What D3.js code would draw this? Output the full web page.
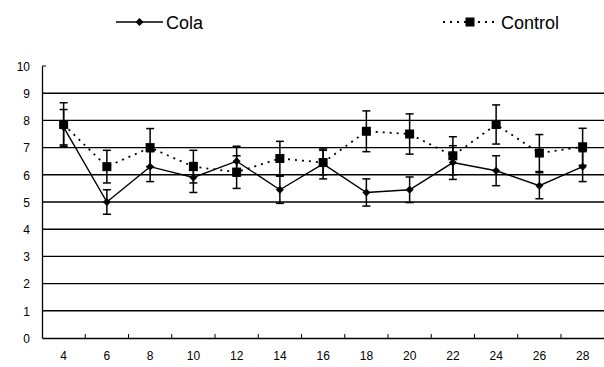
<!doctype html>
<html>
<head>
<meta charset="utf-8">
<script src="https://d3js.org/d3.v7.min.js"></script>
<style>
 body { margin: 0; background: #fff; }
 text { font-family: "Liberation Sans", Arial, sans-serif; fill: #000; }
</style>
</head>
<body>
<script>
// valores
var semanas = [4, 6, 8, 10, 12, 14, 16, 18, 20, 22, 24, 26, 28];
var cola = [7.75, 5.0, 6.3, 5.9, 6.5, 5.45, 6.4, 5.35, 5.45, 6.45, 6.15, 5.6, 6.3];
var colaErro = [0.65, 0.45, 0.55, 0.55, 0.55, 0.5, 0.55, 0.5, 0.47, 0.62, 0.55, 0.48, 0.55];
var controle = [7.85, 6.3, 7.0, 6.3, 6.1, 6.6, 6.45, 7.6, 7.5, 6.7, 7.85, 6.8, 7.03];
var controleErro = [0.8, 0.6, 0.7, 0.6, 0.6, 0.63, 0.45, 0.75, 0.74, 0.7, 0.72, 0.68, 0.68];
var yTicks = [0, 1, 2, 3, 4, 5, 6, 7, 8, 9, 10];

var svg = d3.select("body").append("svg")
    .attr("width", 604)
    .attr("height", 367);

var x0 = 42, x1 = 604, y0 = 338, y1 = 66;

var x = d3.scaleBand().domain(semanas).range([x0, x0 + 13 * 43.25]).padding(0);
var y = d3.scaleLinear().domain([0, 10]).range([y0, y1]);
function cx(d) { return x(d) + x.bandwidth() / 2; }

// linhas de grade
svg.append("g").selectAll("line")
    .data(yTicks.filter(function(t) { return t > 0 && t < 10; }))
    .join("line")
    .attr("x1", x0).attr("x2", x1)
    .attr("y1", function(d) { return y(d); })
    .attr("y2", function(d) { return y(d); })
    .attr("stroke", "#000")
    .attr("stroke-width", 1.4);

// eixo Y
var eixoY = svg.append("g")
    .attr("transform", "translate(" + x0 + ",0)")
    .call(d3.axisLeft(y).tickValues(yTicks).tickSize(0).tickPadding(12));
eixoY.select(".domain").attr("stroke", "#000").attr("stroke-width", 1.3);
eixoY.selectAll("text").attr("font-size", 12).attr("dy", "0.35em");
svg.append("line").attr("x1", x0).attr("x2", x0 + 4).attr("y1", y(10)).attr("y2", y(10)).attr("stroke", "#000");

// eixo X
var eixoX = svg.append("g")
    .attr("transform", "translate(0," + y0 + ")")
    .call(d3.axisBottom(x).tickSize(0).tickPadding(13));
eixoX.select(".domain").attr("stroke", "#000").attr("stroke-width", 1.4);
eixoX.selectAll("text").attr("font-size", 12);
svg.append("g").selectAll("line")
    .data(semanas.slice(1))
    .join("line")
    .attr("x1", function(d) { return x(d); })
    .attr("x2", function(d) { return x(d); })
    .attr("y1", y0).attr("y2", y0 - 4)
    .attr("stroke", "#000");

function barras(valores, erros) {
  var g = svg.append("g").attr("stroke", "#000").attr("stroke-width", 1.5);
  semanas.forEach(function(s, i) {
    var px = cx(s), lo = y(valores[i] - erros[i]), hi = y(valores[i] + erros[i]);
    g.append("line").attr("x1", px).attr("x2", px).attr("y1", lo).attr("y2", hi);
    g.append("line").attr("x1", px - 4).attr("x2", px + 4).attr("y1", lo).attr("y2", lo);
    g.append("line").attr("x1", px - 4).attr("x2", px + 4).attr("y1", hi).attr("y2", hi);
  });
}
barras(controle, controleErro);
barras(cola, colaErro);

var linha = d3.line()
    .x(function(d, i) { return cx(semanas[i]); })
    .y(function(d) { return y(d); });

// Control: pontilhada com quadrados
svg.append("path").datum(controle)
    .attr("d", linha)
    .attr("fill", "none")
    .attr("stroke", "#000")
    .attr("stroke-width", 1.8)
    .attr("stroke-dasharray", "2 5");
svg.append("g").selectAll("rect")
    .data(controle)
    .join("rect")
    .attr("x", function(d, i) { return cx(semanas[i]) - 4.5; })
    .attr("y", function(d) { return y(d) - 4.5; })
    .attr("width", 9).attr("height", 9)
    .attr("fill", "#000");

// Cola: contínua com losangos
svg.append("path").datum(cola)
    .attr("d", linha)
    .attr("fill", "none")
    .attr("stroke", "#000")
    .attr("stroke-width", 1.4);
var losango = d3.symbol().type(d3.symbolSquare).size(32);
svg.append("g").selectAll("path")
    .data(cola)
    .join("path")
    .attr("d", losango)
    .attr("transform", function(d, i) { return "translate(" + cx(semanas[i]) + "," + y(d) + ") rotate(45)"; })
    .attr("fill", "#000");

// Legenda
svg.append("line").attr("x1", 116).attr("x2", 163).attr("y1", 22).attr("y2", 22)
    .attr("stroke", "#000").attr("stroke-width", 1.4);
svg.append("path").attr("d", losango).attr("transform", "translate(139.5,22) rotate(45)").attr("fill", "#000");
svg.append("text").attr("x", 166).attr("y", 28.5).attr("font-size", 18).text("Cola");

svg.append("line").attr("x1", 443).attr("x2", 497).attr("y1", 22).attr("y2", 22)
    .attr("stroke", "#000").attr("stroke-width", 1.8).attr("stroke-dasharray", "2 5");
svg.append("rect").attr("x", 465.5).attr("y", 17.5).attr("width", 9).attr("height", 9).attr("fill", "#000");
svg.append("text").attr("x", 501).attr("y", 28.5).attr("font-size", 18).text("Control");
</script>
</body>
</html>
